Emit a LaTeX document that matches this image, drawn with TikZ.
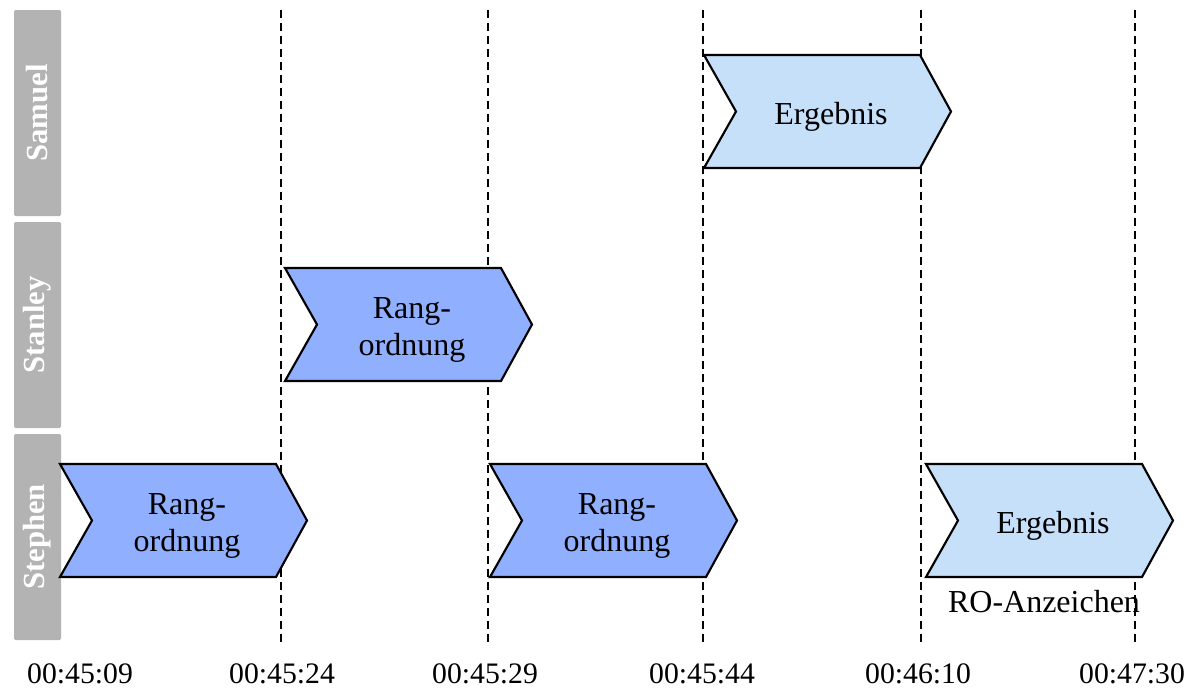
\documentclass[tikz,border=0pt]{standalone}
\usepackage{fontspec}
\setmainfont{Liberation Serif}
\definecolor{lanegray}{HTML}{B3B3B3}
\definecolor{rankblue}{HTML}{91AFFF}
\definecolor{resultblue}{HTML}{C6E0FA}
% chevron step: name, left x, top y, fill colour, label
\newcommand{\chevron}[5]{%
  \draw[chev, fill=#4] (#2,#3) -- ++(216,0) -- ++(31,56.5) -- ++(-31,56.5)
    -- ++(-216,0) -- ++(32,-56.5) -- cycle;
  \node[chevtext] (#1) at (#2+127,#3+62) {#5};
}
\begin{document}
\begin{tikzpicture}[x=0.75pt,y=-0.75pt,
  lane/.style={fill=lanegray, text=white, rotate=90, inner sep=0pt,
    rounded corners=1pt, minimum width=154.5pt, minimum height=35.25pt,
    font=\fontsize{23}{23}\selectfont\bfseries},
  chev/.style={draw=black, line width=1.6pt, line join=miter},
  chevtext/.style={align=center, inner sep=0pt,
    font=\fontsize{24}{27.75}\selectfont},
  tick/.style={dashed, line width=1.4pt, dash pattern=on 6pt off 3.75pt},
  timelabel/.style={anchor=base, inner sep=0pt, font=\fontsize{22.3}{22.3}\selectfont},
  note/.style={anchor=base, inner sep=0pt, font=\fontsize{24}{24}\selectfont}]
\useasboundingbox (0,0) rectangle (1187,694);

% swimlane headers
\node[lane] (samuel)  at (37.5,113) {Samuel};
\node[lane] (stanley) at (37.5,325) {Stanley};
\node[lane] (stephen) at (37.5,537) {Stephen};

% time markers
\foreach \n/\x in {a/281,b/488,c/703,d/921,e/1135}{
  \coordinate (\n top) at (\x,10);
  \coordinate (\n bot) at (\x,647);
  \draw[tick] (\n top) -- (\n bot);
}

% activities
\chevron{s1}{60}{464}{rankblue}{Rang-\\ordnung}
\chevron{s2}{490}{464}{rankblue}{Rang-\\ordnung}
\chevron{s3}{926}{464}{resultblue}{Ergebnis}
\chevron{t1}{285}{268}{rankblue}{Rang-\\ordnung}
\chevron{u1}{704}{55}{resultblue}{Ergebnis}

\node[note] (ro) at (1044,612) {RO-Anzeichen};

% time axis
\node[timelabel] (t0) at (80,683)   {00:45:09};
\node[timelabel] (t1l) at (282,683)  {00:45:24};
\node[timelabel] (t2) at (485,683)  {00:45:29};
\node[timelabel] (t3) at (702,683)  {00:45:44};
\node[timelabel] (t4) at (918,683)  {00:46:10};
\node[timelabel] (t5) at (1132,683) {00:47:30};
\end{tikzpicture}
\end{document}
